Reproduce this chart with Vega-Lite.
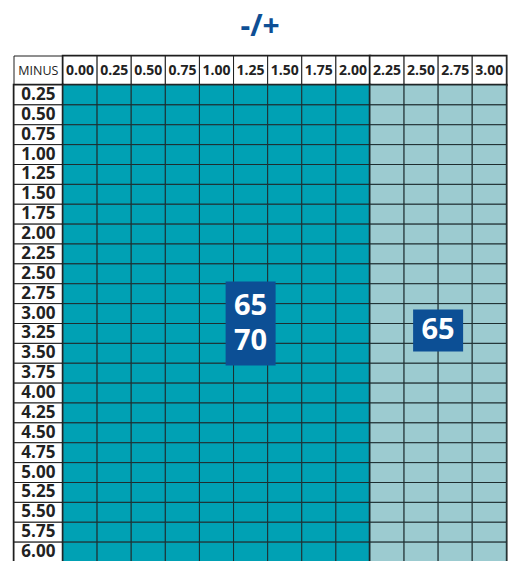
{
  "$schema": "https://vega.github.io/schema/vega-lite/v6.json",
  "padding": {"left": 12, "top": 12, "right": 0, "bottom": 0},
  "background": "white",
  "title": {"text": "-/+", "fontSize": 30, "font": "Open Sans", "fontWeight": "bold", "color": "#0e4f95", "anchor": "middle", "offset": 12},
  "config": {
    "view": {"stroke": "#1e1e1e", "strokeWidth": 2.5},
    "scale": {"bandPaddingInner": 0, "bandPaddingOuter": 0, "rectBandPaddingInner": 0},
    "axis": {"disable": true},
    "text": {"font": "Open Sans"},
    "concat": {"spacing": 0}
  },
  "datasets": {
    "cells": [
      {"m":"0.25","p":"0.00"},{"m":"0.25","p":"0.25"},{"m":"0.25","p":"0.50"},{"m":"0.25","p":"0.75"},{"m":"0.25","p":"1.00"},{"m":"0.25","p":"1.25"},{"m":"0.25","p":"1.50"},{"m":"0.25","p":"1.75"},{"m":"0.25","p":"2.00"},{"m":"0.25","p":"2.25"},{"m":"0.25","p":"2.50"},{"m":"0.25","p":"2.75"},{"m":"0.25","p":"3.00"},
      {"m":"0.50","p":"0.00"},{"m":"0.50","p":"0.25"},{"m":"0.50","p":"0.50"},{"m":"0.50","p":"0.75"},{"m":"0.50","p":"1.00"},{"m":"0.50","p":"1.25"},{"m":"0.50","p":"1.50"},{"m":"0.50","p":"1.75"},{"m":"0.50","p":"2.00"},{"m":"0.50","p":"2.25"},{"m":"0.50","p":"2.50"},{"m":"0.50","p":"2.75"},{"m":"0.50","p":"3.00"},
      {"m":"0.75","p":"0.00"},{"m":"0.75","p":"0.25"},{"m":"0.75","p":"0.50"},{"m":"0.75","p":"0.75"},{"m":"0.75","p":"1.00"},{"m":"0.75","p":"1.25"},{"m":"0.75","p":"1.50"},{"m":"0.75","p":"1.75"},{"m":"0.75","p":"2.00"},{"m":"0.75","p":"2.25"},{"m":"0.75","p":"2.50"},{"m":"0.75","p":"2.75"},{"m":"0.75","p":"3.00"},
      {"m":"1.00","p":"0.00"},{"m":"1.00","p":"0.25"},{"m":"1.00","p":"0.50"},{"m":"1.00","p":"0.75"},{"m":"1.00","p":"1.00"},{"m":"1.00","p":"1.25"},{"m":"1.00","p":"1.50"},{"m":"1.00","p":"1.75"},{"m":"1.00","p":"2.00"},{"m":"1.00","p":"2.25"},{"m":"1.00","p":"2.50"},{"m":"1.00","p":"2.75"},{"m":"1.00","p":"3.00"},
      {"m":"1.25","p":"0.00"},{"m":"1.25","p":"0.25"},{"m":"1.25","p":"0.50"},{"m":"1.25","p":"0.75"},{"m":"1.25","p":"1.00"},{"m":"1.25","p":"1.25"},{"m":"1.25","p":"1.50"},{"m":"1.25","p":"1.75"},{"m":"1.25","p":"2.00"},{"m":"1.25","p":"2.25"},{"m":"1.25","p":"2.50"},{"m":"1.25","p":"2.75"},{"m":"1.25","p":"3.00"},
      {"m":"1.50","p":"0.00"},{"m":"1.50","p":"0.25"},{"m":"1.50","p":"0.50"},{"m":"1.50","p":"0.75"},{"m":"1.50","p":"1.00"},{"m":"1.50","p":"1.25"},{"m":"1.50","p":"1.50"},{"m":"1.50","p":"1.75"},{"m":"1.50","p":"2.00"},{"m":"1.50","p":"2.25"},{"m":"1.50","p":"2.50"},{"m":"1.50","p":"2.75"},{"m":"1.50","p":"3.00"},
      {"m":"1.75","p":"0.00"},{"m":"1.75","p":"0.25"},{"m":"1.75","p":"0.50"},{"m":"1.75","p":"0.75"},{"m":"1.75","p":"1.00"},{"m":"1.75","p":"1.25"},{"m":"1.75","p":"1.50"},{"m":"1.75","p":"1.75"},{"m":"1.75","p":"2.00"},{"m":"1.75","p":"2.25"},{"m":"1.75","p":"2.50"},{"m":"1.75","p":"2.75"},{"m":"1.75","p":"3.00"},
      {"m":"2.00","p":"0.00"},{"m":"2.00","p":"0.25"},{"m":"2.00","p":"0.50"},{"m":"2.00","p":"0.75"},{"m":"2.00","p":"1.00"},{"m":"2.00","p":"1.25"},{"m":"2.00","p":"1.50"},{"m":"2.00","p":"1.75"},{"m":"2.00","p":"2.00"},{"m":"2.00","p":"2.25"},{"m":"2.00","p":"2.50"},{"m":"2.00","p":"2.75"},{"m":"2.00","p":"3.00"},
      {"m":"2.25","p":"0.00"},{"m":"2.25","p":"0.25"},{"m":"2.25","p":"0.50"},{"m":"2.25","p":"0.75"},{"m":"2.25","p":"1.00"},{"m":"2.25","p":"1.25"},{"m":"2.25","p":"1.50"},{"m":"2.25","p":"1.75"},{"m":"2.25","p":"2.00"},{"m":"2.25","p":"2.25"},{"m":"2.25","p":"2.50"},{"m":"2.25","p":"2.75"},{"m":"2.25","p":"3.00"},
      {"m":"2.50","p":"0.00"},{"m":"2.50","p":"0.25"},{"m":"2.50","p":"0.50"},{"m":"2.50","p":"0.75"},{"m":"2.50","p":"1.00"},{"m":"2.50","p":"1.25"},{"m":"2.50","p":"1.50"},{"m":"2.50","p":"1.75"},{"m":"2.50","p":"2.00"},{"m":"2.50","p":"2.25"},{"m":"2.50","p":"2.50"},{"m":"2.50","p":"2.75"},{"m":"2.50","p":"3.00"},
      {"m":"2.75","p":"0.00"},{"m":"2.75","p":"0.25"},{"m":"2.75","p":"0.50"},{"m":"2.75","p":"0.75"},{"m":"2.75","p":"1.00"},{"m":"2.75","p":"1.25"},{"m":"2.75","p":"1.50"},{"m":"2.75","p":"1.75"},{"m":"2.75","p":"2.00"},{"m":"2.75","p":"2.25"},{"m":"2.75","p":"2.50"},{"m":"2.75","p":"2.75"},{"m":"2.75","p":"3.00"},
      {"m":"3.00","p":"0.00"},{"m":"3.00","p":"0.25"},{"m":"3.00","p":"0.50"},{"m":"3.00","p":"0.75"},{"m":"3.00","p":"1.00"},{"m":"3.00","p":"1.25"},{"m":"3.00","p":"1.50"},{"m":"3.00","p":"1.75"},{"m":"3.00","p":"2.00"},{"m":"3.00","p":"2.25"},{"m":"3.00","p":"2.50"},{"m":"3.00","p":"2.75"},{"m":"3.00","p":"3.00"},
      {"m":"3.25","p":"0.00"},{"m":"3.25","p":"0.25"},{"m":"3.25","p":"0.50"},{"m":"3.25","p":"0.75"},{"m":"3.25","p":"1.00"},{"m":"3.25","p":"1.25"},{"m":"3.25","p":"1.50"},{"m":"3.25","p":"1.75"},{"m":"3.25","p":"2.00"},{"m":"3.25","p":"2.25"},{"m":"3.25","p":"2.50"},{"m":"3.25","p":"2.75"},{"m":"3.25","p":"3.00"},
      {"m":"3.50","p":"0.00"},{"m":"3.50","p":"0.25"},{"m":"3.50","p":"0.50"},{"m":"3.50","p":"0.75"},{"m":"3.50","p":"1.00"},{"m":"3.50","p":"1.25"},{"m":"3.50","p":"1.50"},{"m":"3.50","p":"1.75"},{"m":"3.50","p":"2.00"},{"m":"3.50","p":"2.25"},{"m":"3.50","p":"2.50"},{"m":"3.50","p":"2.75"},{"m":"3.50","p":"3.00"},
      {"m":"3.75","p":"0.00"},{"m":"3.75","p":"0.25"},{"m":"3.75","p":"0.50"},{"m":"3.75","p":"0.75"},{"m":"3.75","p":"1.00"},{"m":"3.75","p":"1.25"},{"m":"3.75","p":"1.50"},{"m":"3.75","p":"1.75"},{"m":"3.75","p":"2.00"},{"m":"3.75","p":"2.25"},{"m":"3.75","p":"2.50"},{"m":"3.75","p":"2.75"},{"m":"3.75","p":"3.00"},
      {"m":"4.00","p":"0.00"},{"m":"4.00","p":"0.25"},{"m":"4.00","p":"0.50"},{"m":"4.00","p":"0.75"},{"m":"4.00","p":"1.00"},{"m":"4.00","p":"1.25"},{"m":"4.00","p":"1.50"},{"m":"4.00","p":"1.75"},{"m":"4.00","p":"2.00"},{"m":"4.00","p":"2.25"},{"m":"4.00","p":"2.50"},{"m":"4.00","p":"2.75"},{"m":"4.00","p":"3.00"},
      {"m":"4.25","p":"0.00"},{"m":"4.25","p":"0.25"},{"m":"4.25","p":"0.50"},{"m":"4.25","p":"0.75"},{"m":"4.25","p":"1.00"},{"m":"4.25","p":"1.25"},{"m":"4.25","p":"1.50"},{"m":"4.25","p":"1.75"},{"m":"4.25","p":"2.00"},{"m":"4.25","p":"2.25"},{"m":"4.25","p":"2.50"},{"m":"4.25","p":"2.75"},{"m":"4.25","p":"3.00"},
      {"m":"4.50","p":"0.00"},{"m":"4.50","p":"0.25"},{"m":"4.50","p":"0.50"},{"m":"4.50","p":"0.75"},{"m":"4.50","p":"1.00"},{"m":"4.50","p":"1.25"},{"m":"4.50","p":"1.50"},{"m":"4.50","p":"1.75"},{"m":"4.50","p":"2.00"},{"m":"4.50","p":"2.25"},{"m":"4.50","p":"2.50"},{"m":"4.50","p":"2.75"},{"m":"4.50","p":"3.00"},
      {"m":"4.75","p":"0.00"},{"m":"4.75","p":"0.25"},{"m":"4.75","p":"0.50"},{"m":"4.75","p":"0.75"},{"m":"4.75","p":"1.00"},{"m":"4.75","p":"1.25"},{"m":"4.75","p":"1.50"},{"m":"4.75","p":"1.75"},{"m":"4.75","p":"2.00"},{"m":"4.75","p":"2.25"},{"m":"4.75","p":"2.50"},{"m":"4.75","p":"2.75"},{"m":"4.75","p":"3.00"},
      {"m":"5.00","p":"0.00"},{"m":"5.00","p":"0.25"},{"m":"5.00","p":"0.50"},{"m":"5.00","p":"0.75"},{"m":"5.00","p":"1.00"},{"m":"5.00","p":"1.25"},{"m":"5.00","p":"1.50"},{"m":"5.00","p":"1.75"},{"m":"5.00","p":"2.00"},{"m":"5.00","p":"2.25"},{"m":"5.00","p":"2.50"},{"m":"5.00","p":"2.75"},{"m":"5.00","p":"3.00"},
      {"m":"5.25","p":"0.00"},{"m":"5.25","p":"0.25"},{"m":"5.25","p":"0.50"},{"m":"5.25","p":"0.75"},{"m":"5.25","p":"1.00"},{"m":"5.25","p":"1.25"},{"m":"5.25","p":"1.50"},{"m":"5.25","p":"1.75"},{"m":"5.25","p":"2.00"},{"m":"5.25","p":"2.25"},{"m":"5.25","p":"2.50"},{"m":"5.25","p":"2.75"},{"m":"5.25","p":"3.00"},
      {"m":"5.50","p":"0.00"},{"m":"5.50","p":"0.25"},{"m":"5.50","p":"0.50"},{"m":"5.50","p":"0.75"},{"m":"5.50","p":"1.00"},{"m":"5.50","p":"1.25"},{"m":"5.50","p":"1.50"},{"m":"5.50","p":"1.75"},{"m":"5.50","p":"2.00"},{"m":"5.50","p":"2.25"},{"m":"5.50","p":"2.50"},{"m":"5.50","p":"2.75"},{"m":"5.50","p":"3.00"},
      {"m":"5.75","p":"0.00"},{"m":"5.75","p":"0.25"},{"m":"5.75","p":"0.50"},{"m":"5.75","p":"0.75"},{"m":"5.75","p":"1.00"},{"m":"5.75","p":"1.25"},{"m":"5.75","p":"1.50"},{"m":"5.75","p":"1.75"},{"m":"5.75","p":"2.00"},{"m":"5.75","p":"2.25"},{"m":"5.75","p":"2.50"},{"m":"5.75","p":"2.75"},{"m":"5.75","p":"3.00"},
      {"m":"6.00","p":"0.00"},{"m":"6.00","p":"0.25"},{"m":"6.00","p":"0.50"},{"m":"6.00","p":"0.75"},{"m":"6.00","p":"1.00"},{"m":"6.00","p":"1.25"},{"m":"6.00","p":"1.50"},{"m":"6.00","p":"1.75"},{"m":"6.00","p":"2.00"},{"m":"6.00","p":"2.25"},{"m":"6.00","p":"2.50"},{"m":"6.00","p":"2.75"},{"m":"6.00","p":"3.00"}
    ],
    "labels": [
      {"p": "1.25", "m": "3.00", "t": "65\n70", "zone": "A"},
      {"p": "2.50", "m": "3.25", "t": "65", "zone": "B"}
    ]
  },
  "bounds": "flush",
  "columns": 3,
  "concat": [
    {
      "width": 48.7, "height": 29,
      "data": {"values": [{"t": "MINUS"}]},
      "layer": [
        {"mark": {"type": "rect", "fill": "white", "stroke": "#1e1e1e", "strokeWidth": 1}, "encoding": {}},
        {"mark": {"type": "text", "fontSize": 12.5, "color": "#222"}, "encoding": {"text": {"field": "t"}}}
      ]
    },
    {
      "width": 307, "height": 29,
      "data": {"name": "cells"},
      "transform": [{"filter": "datum.m == '0.25' && toNumber(datum.p) <= 2"}],
      "encoding": {"x": {"field": "p", "type": "ordinal", "axis": null}},
      "layer": [
        {"mark": {"type": "rect", "fill": "white", "stroke": "#1e1e1e", "strokeWidth": 1}},
        {"mark": {"type": "text", "fontSize": 14, "fontWeight": "bold", "color": "#222"}, "encoding": {"text": {"field": "p"}}}
      ]
    },
    {
      "width": 136.3, "height": 29,
      "data": {"name": "cells"},
      "transform": [{"filter": "datum.m == '0.25' && toNumber(datum.p) > 2"}],
      "encoding": {"x": {"field": "p", "type": "ordinal", "axis": null}},
      "layer": [
        {"mark": {"type": "rect", "fill": "white", "stroke": "#1e1e1e", "strokeWidth": 1}},
        {"mark": {"type": "text", "fontSize": 14, "fontWeight": "bold", "color": "#222"}, "encoding": {"text": {"field": "p"}}}
      ]
    },
    {
      "width": 48.7, "height": 477,
      "data": {"name": "cells"},
      "transform": [{"filter": "datum.p == '0.00'"}],
      "encoding": {"y": {"field": "m", "type": "ordinal", "axis": null}},
      "layer": [
        {"mark": {"type": "rect", "fill": "white", "stroke": "#1e1e1e", "strokeWidth": 1}},
        {"mark": {"type": "text", "fontSize": 17, "fontWeight": "bold", "color": "#222"}, "encoding": {"text": {"field": "m"}}}
      ]
    },
    {
      "width": 307, "height": 477,
      "layer": [
        {
          "data": {"name": "cells"},
          "transform": [{"filter": "toNumber(datum.p) <= 2"}],
          "mark": {"type": "rect", "fill": "#00a1b4", "stroke": "#1e2e30", "strokeWidth": 1},
          "encoding": {
            "x": {"field": "p", "type": "ordinal", "axis": null},
            "y": {"field": "m", "type": "ordinal", "axis": null}
          }
        },
        {
          "data": {"name": "labels"},
          "transform": [{"filter": "datum.zone == 'A'"}],
          "mark": {"type": "rect", "fill": "#0c4f95", "width": 50, "height": 84, "yOffset": 10},
          "encoding": {
            "x": {"field": "p", "type": "ordinal"},
            "y": {"field": "m", "type": "ordinal"}
          }
        },
        {
          "data": {"name": "labels"},
          "transform": [{"filter": "datum.zone == 'A'"}],
          "mark": {"type": "text", "fontSize": 29, "fontWeight": "bold", "color": "white", "lineBreak": "\n", "lineHeight": 35, "yOffset": -7.5, "baseline": "middle"},
          "encoding": {
            "x": {"field": "p", "type": "ordinal"},
            "y": {"field": "m", "type": "ordinal"},
            "text": {"field": "t"}
          }
        }
      ]
    },
    {
      "width": 136.3, "height": 477,
      "layer": [
        {
          "data": {"name": "cells"},
          "transform": [{"filter": "toNumber(datum.p) > 2"}],
          "mark": {"type": "rect", "fill": "#9ccbd0", "stroke": "#1e2e30", "strokeWidth": 1},
          "encoding": {
            "x": {"field": "p", "type": "ordinal", "axis": null},
            "y": {"field": "m", "type": "ordinal", "axis": null}
          }
        },
        {
          "data": {"name": "labels"},
          "transform": [{"filter": "datum.zone == 'B'"}],
          "mark": {"type": "rect", "fill": "#0c4f95", "width": 50, "height": 42, "xOffset": 17, "yOffset": -3},
          "encoding": {
            "x": {"field": "p", "type": "ordinal"},
            "y": {"field": "m", "type": "ordinal"}
          }
        },
        {
          "data": {"name": "labels"},
          "transform": [{"filter": "datum.zone == 'B'"}],
          "mark": {"type": "text", "fontSize": 29, "fontWeight": "bold", "color": "white", "xOffset": 17, "yOffset": -3, "baseline": "middle"},
          "encoding": {
            "x": {"field": "p", "type": "ordinal"},
            "y": {"field": "m", "type": "ordinal"},
            "text": {"field": "t"}
          }
        }
      ]
    }
  ]
}
